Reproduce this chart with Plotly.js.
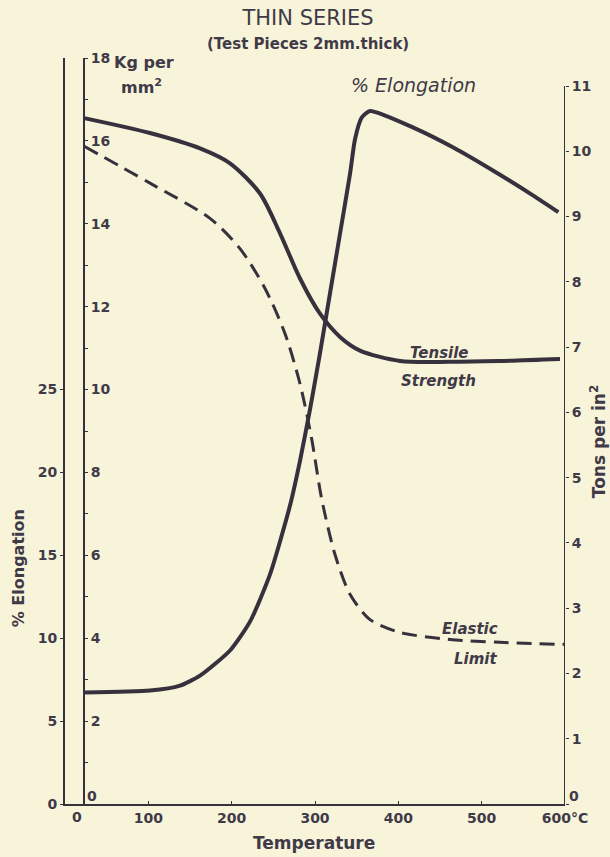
<!DOCTYPE html>
<html>
<head>
<meta charset="utf-8">
<script src="https://cdn.plot.ly/plotly-3.0.1.min.js"></script>
<style>
  html, body { margin: 0; padding: 0; background: #f8f4d9; }
  #chart { width: 610px; height: 857px; }
</style>
</head>
<body>
<div id="chart"></div>
<script>
// Temperature (°C) and % elongation
const elongTemp = [23, 102, 138, 162, 198, 222, 246, 270, 282, 294, 306, 318, 330, 342, 348, 356, 366, 418, 466, 514, 562, 592];
const elongPct  = [6.72, 6.84, 7.14, 7.74, 9.26, 11.0, 13.85, 18.0, 20.7, 23.8, 27.2, 30.8, 34.4, 38.0, 40.1, 41.4, 41.8, 40.8, 39.6, 38.2, 36.7, 35.7];

// Tensile strength, kg per mm²
const tensileTemp = [23, 102, 162, 198, 234, 258, 282, 306, 330, 354, 402, 462, 522, 594];
const tensileKg   = [16.55, 16.19, 15.82, 15.46, 14.73, 13.77, 12.68, 11.83, 11.27, 10.94, 10.69, 10.67, 10.69, 10.74];

// Elastic limit, kg per mm²
const elasticTemp = [23, 102, 174, 210, 240, 264, 282, 296, 308, 324, 342, 366, 402, 462, 522, 600];
const elasticKg   = [15.87, 14.98, 14.13, 13.40, 12.44, 11.35, 10.14, 8.81, 7.36, 6.02, 5.06, 4.45, 4.14, 3.97, 3.90, 3.85];

// Axis ticks
const tempTicks = [0, 100, 200, 300, 400, 500, 600];
const tempLabels = ['', '100', '200', '300', '400', '500', '600°C'];
const pctTicks = [0, 5, 10, 15, 20, 25];
const kgTicks = [0,1,2,3,4,5,6,7,8,9,10,11,12,13,14,15,16,17,18];
const kgLabels = ['','','2','','4','','6','','8','','10','','12','','14','','16','','18'];
const tonTicks = [0,1,2,3,4,5,6,7,8,9,10,11];
const tonLabels = ['','1','2','3','4','5','6','7','8','9','10','11'];

// 1 ton per square inch = 1.5749 kg per mm²
const KG_PER_TON = 1.5749;
const KG_MAX = 18;

const ink = '#37313e';
const txt = '#403a48';
const paper = '#f8f4d9';
const FAM = '"DejaVu Sans", sans-serif';
const numFont = {family: FAM, size: 14, color: txt, weight: 700};
const italic = (size) => ({family: FAM, size: size, color: txt, style: 'italic', weight: 700});
const bold = (size) => ({family: FAM, size: size, color: txt, weight: 700});

const traces = [
  {x: elongTemp, y: elongPct, yaxis: 'y', type: 'scatter', mode: 'lines',
   line: {color: ink, width: 4, shape: 'spline', smoothing: 0.6}, hoverinfo: 'skip'},
  {x: tensileTemp, y: tensileKg, yaxis: 'y2', type: 'scatter', mode: 'lines',
   line: {color: ink, width: 4, shape: 'spline', smoothing: 0.8}, hoverinfo: 'skip'},
  {x: elasticTemp, y: elasticKg, yaxis: 'y2', type: 'scatter', mode: 'lines',
   line: {color: ink, width: 3, dash: '15px,8px', shape: 'spline', smoothing: 0.8}, hoverinfo: 'skip'}
];

const layout = {
  width: 610, height: 857,
  paper_bgcolor: paper, plot_bgcolor: paper,
  showlegend: false,
  margin: {l: 65, r: 45, t: 58, b: 53},
  title: {text: 'THIN SERIES', x: 0.505, xref: 'container', xanchor: 'center',
          y: 1 - 18 / 857, yref: 'container', yanchor: 'middle',
          font: {family: FAM, size: 21, color: txt, weight: 400}},
  xaxis: {range: [0, 600], tickvals: tempTicks, ticktext: tempLabels,
          showline: true, linecolor: ink, linewidth: 2, showgrid: false, zeroline: false,
          ticks: 'inside', ticklen: 3, tickcolor: ink, tickfont: numFont, fixedrange: true},
  yaxis: {range: [0, KG_MAX * 2.5], tickvals: pctTicks, side: 'left',
          showline: true, linecolor: ink, linewidth: 2, showgrid: false, zeroline: false,
          ticks: 'outside', ticklen: 3, tickcolor: ink, tickfont: numFont, fixedrange: true},
  yaxis2: {range: [0, KG_MAX], tickvals: kgTicks, ticktext: kgLabels, overlaying: 'y',
           anchor: 'free', position: 0.038, side: 'right',
           showline: true, linecolor: ink, linewidth: 2, showgrid: false, zeroline: false,
           ticks: 'outside', ticklen: 3, tickcolor: ink, tickfont: numFont, fixedrange: true},
  yaxis3: {range: [0, KG_MAX / KG_PER_TON], tickvals: tonTicks, ticktext: tonLabels, overlaying: 'y',
           anchor: 'x', side: 'right',
           showline: false, showgrid: false, zeroline: false,
           ticks: 'outside', ticklen: 3, tickcolor: ink, tickfont: numFont, fixedrange: true},
  shapes: [
    {type: 'line', xref: 'x', yref: 'y3', x0: 600, x1: 600, y0: 0, y1: 11,
     line: {color: ink, width: 2}}
  ],
  annotations: [
    {text: '(Test Pieces 2mm.thick)', xref: 'paper', yref: 'paper', x: 0.486, y: 1 + 14 / 746,
     xanchor: 'center', yanchor: 'middle', showarrow: false, font: bold(15)},
    {text: 'Kg per', xref: 'paper', yref: 'paper', x: 0.094, y: 1 - 4 / 746,
     xanchor: 'left', yanchor: 'middle', showarrow: false, font: bold(16)},
    {text: 'mm<sup>2</sup>', xref: 'paper', yref: 'paper', x: 0.108, y: 1 - 28 / 746,
     xanchor: 'left', yanchor: 'middle', showarrow: false, font: bold(16)},
    {text: '% Elongation', xref: 'paper', yref: 'paper', x: -0.094, y: 0.316,
     xanchor: 'center', yanchor: 'middle', textangle: -90, showarrow: false, font: bold(16)},
    {text: 'Tons per in<sup>2</sup>', xref: 'paper', yref: 'paper', x: 1.066, y: 0.485,
     xanchor: 'center', yanchor: 'middle', textangle: -90, showarrow: false, font: bold(17)},
    {text: 'Temperature', xref: 'paper', yref: 'paper', x: 0.497, y: -39 / 746,
     xanchor: 'center', yanchor: 'middle', showarrow: false, font: bold(17)},
    {text: '0', xref: 'x', yref: 'paper', x: 0, y: 0, xshift: 12, yshift: -13,
     xanchor: 'center', yanchor: 'middle', showarrow: false, font: numFont},
    {text: '0', xref: 'x', yref: 'paper', x: 0, y: 0, xshift: 27, yshift: 8,
     xanchor: 'center', yanchor: 'middle', showarrow: false, font: numFont},
    {text: '0', xref: 'x', yref: 'paper', x: 600, y: 0, xshift: 9, yshift: 8,
     xanchor: 'center', yanchor: 'middle', showarrow: false, font: numFont},
    {text: '% Elongation', xref: 'x', yref: 'y', x: 418, y: 42.3, yshift: 18,
     xanchor: 'center', yanchor: 'middle', showarrow: false,
     font: {family: FAM, size: 19, color: txt, style: 'italic', weight: 400}},
    {text: 'Tensile', xref: 'x', yref: 'y2', x: 449, y: 10.69, yshift: 8,
     xanchor: 'center', yanchor: 'middle', showarrow: false, font: italic(15)},
    {text: 'Strength', xref: 'x', yref: 'y2', x: 448, y: 10.69, yshift: -20,
     xanchor: 'center', yanchor: 'middle', showarrow: false, font: italic(15)},
    {text: 'Elastic', xref: 'x', yref: 'y2', x: 486, y: 3.9, yshift: 13,
     xanchor: 'center', yanchor: 'middle', showarrow: false, font: italic(15)},
    {text: 'Limit', xref: 'x', yref: 'y2', x: 492, y: 3.9, yshift: -17,
     xanchor: 'center', yanchor: 'middle', showarrow: false, font: italic(15)}
  ]
};

Plotly.newPlot('chart', traces, layout, {displayModeBar: false, staticPlot: true});
</script>
</body>
</html>
